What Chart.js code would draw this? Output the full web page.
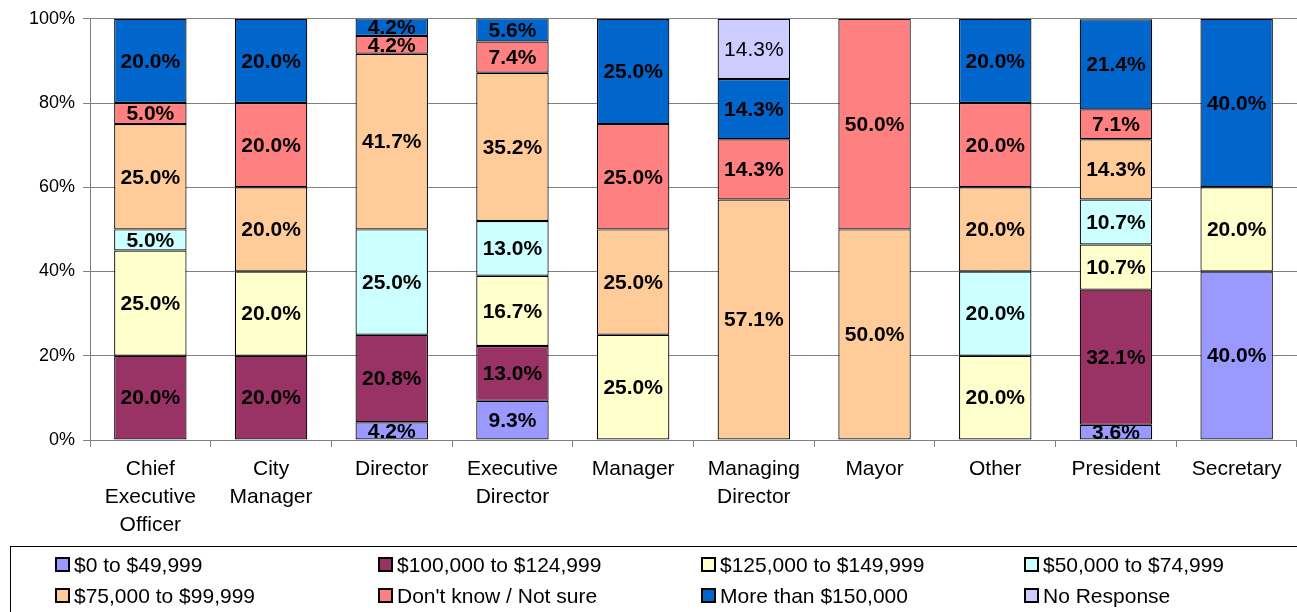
<!DOCTYPE html>
<html>
<head>
<meta charset="utf-8">
<script src="https://cdn.jsdelivr.net/npm/chart.js@4/dist/chart.umd.min.js"></script>
<style>
  html, body { margin: 0; padding: 0; background: #fff; }
  #wrap { width: 1297px; height: 612px; position: relative; }
</style>
</head>
<body>
<div id="wrap"><canvas id="c" width="1297" height="612"></canvas></div>
<script>
// Categories (job titles), multi-line labels
const categories = [
  ['Chief', 'Executive', 'Officer'],
  ['City', 'Manager'],
  ['Director'],
  ['Executive', 'Director'],
  ['Manager'],
  ['Managing', 'Director'],
  ['Mayor'],
  ['Other'],
  ['President'],
  ['Secretary']
];

// Series values (percent), bottom to top of the stack
const s0to49       = [0, 0, 4.2, 9.3, 0, 0, 0, 0, 3.6, 40.0];
const s100to124    = [20.0, 20.0, 20.8, 13.0, 0, 0, 0, 0, 32.1, 0];
const s125to149    = [25.0, 20.0, 0, 16.7, 25.0, 0, 0, 20.0, 10.7, 20.0];
const s50to74      = [5.0, 0, 25.0, 13.0, 0, 0, 0, 20.0, 10.7, 0];
const s75to99      = [25.0, 20.0, 41.7, 35.2, 25.0, 57.1, 50.0, 20.0, 14.3, 0];
const sDontKnow    = [5.0, 20.0, 4.2, 7.4, 25.0, 14.3, 50.0, 20.0, 7.1, 0];
const sMore150     = [20.0, 20.0, 4.2, 5.6, 25.0, 14.3, 0, 20.0, 21.4, 40.0];
const sNoResponse  = [0, 0, 0, 0, 0, 14.3, 0, 0, 0, 0];

const yTicks = [0, 20, 40, 60, 80, 100];

const series = [
  { label: '$0 to $49,999',          data: s0to49,      color: '#9999FF' },
  { label: '$100,000 to $124,999',   data: s100to124,   color: '#993366' },
  { label: '$125,000 to $149,999',   data: s125to149,   color: '#FFFFCC' },
  { label: '$50,000 to $74,999',     data: s50to74,     color: '#CCFFFF' },
  { label: '$75,000 to $99,999',     data: s75to99,     color: '#FFCC99' },
  { label: "Don't know / Not sure",  data: sDontKnow,   color: '#FF8080' },
  { label: 'More than $150,000',     data: sMore150,    color: '#0066CC' },
  { label: 'No Response',            data: sNoResponse, color: '#CCCCFF', plain: true }
];

const FONT = 'Arial, "Liberation Sans", sans-serif';

// Value labels drawn in the middle of each segment
const valueLabels = {
  id: 'valueLabels',
  afterDatasetsDraw(chart) {
    const ctx = chart.ctx;
    ctx.save();
    ctx.textAlign = 'center';
    ctx.textBaseline = 'middle';
    ctx.fillStyle = '#000';
    chart.data.datasets.forEach((ds, i) => {
      const meta = chart.getDatasetMeta(i);
      ctx.font = (ds.plain ? '' : 'bold ') + '21px ' + FONT;
      meta.data.forEach((bar, j) => {
        const v = ds.data[j];
        if (v == null) return;
        const y = (bar.y + bar.base) / 2;
        ctx.fillText(v.toFixed(1) + '%', bar.x, y + 1);
      });
    });
    ctx.restore();
  }
};

// Boxed legend with 4 fixed columns
const boxLegend = {
  id: 'boxLegend',
  afterDraw(chart) {
    const ctx = chart.ctx;
    const top = 546, left = 10;
    ctx.save();
    ctx.strokeStyle = '#000';
    ctx.lineWidth = 1;
    ctx.strokeRect(left + 0.5, top + 0.5, chart.width + 20, 100);
    ctx.font = '21px ' + FONT;
    ctx.textBaseline = 'middle';
    ctx.textAlign = 'left';
    const colX = [56, 379, 702, 1025];
    const rowY = [565, 596];
    series.forEach((s, k) => {
      const x = colX[k % 4], y = rowY[Math.floor(k / 4)];
      ctx.fillStyle = s.color;
      ctx.fillRect(x, y - 7, 13, 13);
      ctx.lineWidth = 2;
      ctx.strokeStyle = '#000';
      ctx.strokeRect(x, y - 7, 13, 13);
      ctx.fillStyle = '#000';
      ctx.fillText(s.label, x + 18, y + 1);
    });
    ctx.restore();
  }
};

new Chart(document.getElementById('c'), {
  type: 'bar',
  data: {
    labels: categories,
    datasets: series.map(s => ({
      label: s.label,
      data: s.data.map(v => (v ? v : null)),
      backgroundColor: s.color,
      borderColor: '#000',
      borderWidth: 1.2,
      borderSkipped: false,
      categoryPercentage: 1,
      barPercentage: 0.6,
      plain: !!s.plain
    }))
  },
  options: {
    responsive: false,
    animation: false,
    layout: { padding: { top: 17, right: 0, bottom: 72, left: 0 } },
    plugins: { legend: { display: false }, tooltip: { enabled: false } },
    scales: {
      x: {
        stacked: true,
        grid: { drawOnChartArea: false, drawTicks: true, tickLength: 7, color: '#808080' },
        border: { color: '#808080' },
        ticks: {
          color: '#000', font: { family: FONT, size: 21, lineHeight: 1.333 },
          maxRotation: 0, autoSkip: false, padding: 8
        },
        afterFit(scale) { scale.height = 100; }
      },
      y: {
        stacked: true,
        min: 0, max: 100,
        afterBuildTicks(scale) { scale.ticks = yTicks.map(v => ({ value: v })); },
        grid: { color: '#808080', tickLength: 7, lineWidth: 1 },
        border: { color: '#808080' },
        ticks: {
          color: '#000', font: { family: FONT, size: 18 }, padding: 8,
          callback: v => v + '%'
        },
        afterFit(scale) { scale.width = 90; }
      }
    }
  },
  plugins: [valueLabels, boxLegend]
});
</script>
</body>
</html>
